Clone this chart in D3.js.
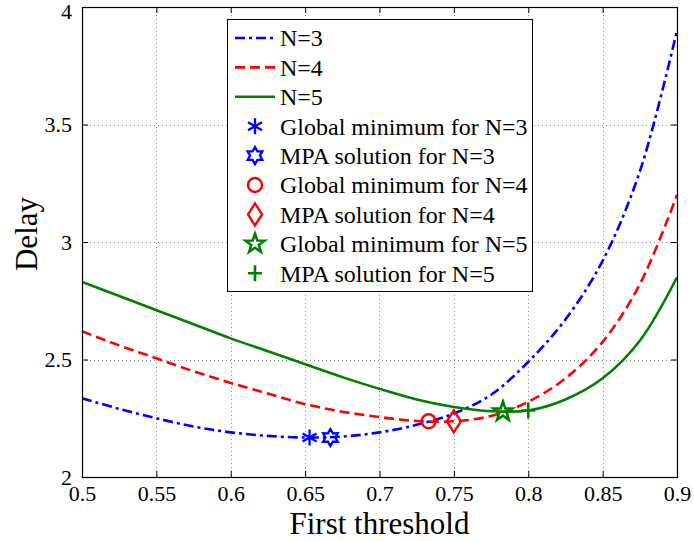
<!DOCTYPE html>
<html>
<head>
<meta charset="utf-8">
<script src="https://cdn.jsdelivr.net/npm/d3@7"></script>
<style>
  body { margin: 0; background: #fff; }
</style>
</head>
<body>
<script>
// data
var thresholds = [0.5, 0.525, 0.55, 0.575, 0.6, 0.625, 0.65, 0.675, 0.7, 0.725, 0.75, 0.775, 0.8, 0.825, 0.85, 0.875, 0.9];
var delayN3 = [2.335, 2.29, 2.25, 2.215, 2.19, 2.175, 2.168, 2.172, 2.19, 2.222, 2.27, 2.35, 2.49, 2.67, 2.92, 3.3, 3.9];
var delayN4 = [2.62, 2.56, 2.505, 2.45, 2.40, 2.355, 2.31, 2.278, 2.255, 2.238, 2.237, 2.26, 2.32, 2.42, 2.575, 2.82, 3.2];
var delayN5 = [2.83, 2.77, 2.71, 2.65, 2.59, 2.535, 2.48, 2.425, 2.375, 2.33, 2.298, 2.28, 2.283, 2.33, 2.42, 2.58, 2.85];
var xTicks = [0.5, 0.55, 0.6, 0.65, 0.7, 0.75, 0.8, 0.85, 0.9];
var yTicks = [2, 2.5, 3, 3.5, 4];

var seriesNames = ["N=3", "N=4", "N=5"];
var seriesColors = ["#0000ff", "#ff0000", "#008000"];
var seriesDash = ["10,4,3,4", "10,5", null];

var markerNames = ["Global minimum for N=3", "MPA solution for N=3", "Global minimum for N=4",
                   "MPA solution for N=4", "Global minimum for N=5", "MPA solution for N=5"];
var markerX = [0.653, 0.667, 0.733, 0.75, 0.783, 0.8];
var markerY = [2.168, 2.168, 2.237, 2.237, 2.278, 2.283];
var markerShapes = ["asterisk", "hexagram", "circle", "diamond", "pentagram", "plus"];
var markerColors = ["#0000ff", "#0000ff", "#ff0000", "#ff0000", "#008000", "#008000"];

var width = 694, height = 541;
var plotLeft = 82, plotRight = 677, plotTop = 7, plotBottom = 477;
var serif = "'Liberation Serif', 'Times New Roman', serif";

var x = d3.scaleLinear().domain([0.5, 0.9]).range([plotLeft, plotRight]);
var y = d3.scaleLinear().domain([2, 4]).range([plotBottom, plotTop]);

var svg = d3.select("body").append("svg")
  .attr("width", width)
  .attr("height", height)
  .attr("font-family", serif);

svg.append("rect").attr("width", width).attr("height", height).attr("fill", "#fff");

svg.append("clipPath").attr("id", "plotclip")
  .append("rect").attr("x", plotLeft).attr("y", plotTop).attr("width", plotRight - plotLeft).attr("height", plotBottom - plotTop);

// grid
var grid = svg.append("g").attr("stroke", "#8a8a8a").attr("stroke-width", 1).attr("stroke-dasharray", "1,3");
grid.selectAll(".gx").data(xTicks.slice(1, -1)).enter().append("line")
  .attr("x1", function(d) { return Math.round(x(d)) + 0.5 }).attr("x2", function(d) { return Math.round(x(d)) + 0.5 })
  .attr("y1", plotTop).attr("y2", plotBottom);
grid.selectAll(".gy").data(yTicks.slice(1, -1)).enter().append("line")
  .attr("y1", function(d) { return Math.round(y(d)) + 0.5 }).attr("y2", function(d) { return Math.round(y(d)) + 0.5 })
  .attr("x1", plotLeft).attr("x2", plotRight);

// axes (matlab box with inward ticks)
var tickLen = 6;
var axB = svg.append("g").attr("transform", "translate(0," + plotBottom + ")")
  .call(d3.axisBottom(x).tickValues(xTicks).tickSizeInner(-tickLen).tickSizeOuter(0).tickPadding(8).tickFormat(d3.format("")));
var axT = svg.append("g").attr("transform", "translate(0," + plotTop + ")")
  .call(d3.axisTop(x).tickValues(xTicks).tickSizeInner(-tickLen).tickSizeOuter(0).tickFormat(""));
var axL = svg.append("g").attr("transform", "translate(" + plotLeft + ",0)")
  .call(d3.axisLeft(y).tickValues(yTicks).tickSizeInner(-tickLen).tickSizeOuter(0).tickPadding(10).tickFormat(d3.format("")));
var axR = svg.append("g").attr("transform", "translate(" + plotRight + ",0)")
  .call(d3.axisRight(y).tickValues(yTicks).tickSizeInner(-tickLen).tickSizeOuter(0).tickFormat(""));

[axB, axT, axL, axR].forEach(function(a) {
  a.select(".domain").remove();
  a.selectAll("line").attr("stroke", "#000");
  a.selectAll("text").attr("font-family", serif).attr("font-size", 22).attr("fill", "#000");
});
axL.selectAll("text").filter(function(d) { return d === 4 }).attr("dy", "0.5em");

// curves
var lineGen = d3.line()
  .x(function(d) { return x(d[0]) })
  .y(function(d) { return y(d[1]) })
  .curve(d3.curveCatmullRom.alpha(0.5));

var curves = svg.append("g").attr("clip-path", "url(#plotclip)");
[delayN3, delayN4, delayN5].forEach(function(vals, i) {
  curves.append("path")
    .datum(thresholds.map(function(t, j) { return [t, vals[j]] }))
    .attr("fill", "none")
    .attr("stroke", seriesColors[i])
    .attr("stroke-width", 2.6)
    .attr("stroke-dasharray", seriesDash[i])
    .attr("d", lineGen);
});

// marker shapes
function starPath(n, rOut, rIn) {
  var pts = [];
  for (var k = 0; k < 2 * n; k++) {
    var a = -Math.PI / 2 + k * Math.PI / n;
    var r = k % 2 === 0 ? rOut : rIn;
    pts.push([r * Math.cos(a), r * Math.sin(a)]);
  }
  return "M" + pts.map(function(p) { return p[0].toFixed(2) + "," + p[1].toFixed(2) }).join("L") + "Z";
}

function drawMarker(g, shape, color) {
  if (shape === "asterisk") {
    g.append("path").attr("d", "M0,-8V8M-7,-4L7,4M-7,4L7,-4")
      .attr("stroke", color).attr("stroke-width", 2.3).attr("fill", "none");
  } else if (shape === "hexagram") {
    g.append("path").attr("d", starPath(6, 8.5, 4.9))
      .attr("stroke", color).attr("stroke-width", 2.3).attr("fill", "none");
  } else if (shape === "circle") {
    g.append("circle").attr("r", 7)
      .attr("stroke", color).attr("stroke-width", 2.4).attr("fill", "none");
  } else if (shape === "diamond") {
    g.append("path").attr("d", "M0,-11L7,0L0,11L-7,0Z")
      .attr("stroke", color).attr("stroke-width", 2.4).attr("fill", "none");
  } else if (shape === "pentagram") {
    g.append("path").attr("d", starPath(5, 10, 4))
      .attr("stroke", color).attr("stroke-width", 2.6).attr("fill", "none");
  } else if (shape === "plus") {
    g.append("path").attr("d", "M0,-8V8M-7,0H7")
      .attr("stroke", color).attr("stroke-width", 2.6).attr("fill", "none");
  }
}

markerShapes.forEach(function(s, i) {
  var g = svg.append("g").attr("transform", "translate(" + x(markerX[i]) + "," + y(markerY[i]) + ")");
  drawMarker(g, s, markerColors[i]);
});

// axis titles
svg.append("text")
  .attr("x", (plotLeft + plotRight) / 2).attr("y", 534)
  .attr("text-anchor", "middle")
  .attr("font-size", 31)
  .text("First threshold");

svg.append("text")
  .attr("transform", "translate(37,234) rotate(-90)")
  .attr("text-anchor", "middle")
  .attr("font-size", 31)
  .text("Delay");

// legend
var legX = 227, legY = 19, legW = 305, legH = 272, rowH = 29.4, firstRow = 38;
var legend = svg.append("g");
legend.append("rect")
  .attr("x", legX + 0.5).attr("y", legY + 0.5).attr("width", legW).attr("height", legH)
  .attr("fill", "#fff").attr("stroke", "#000").attr("stroke-width", 1);

seriesNames.forEach(function(name, i) {
  var yy = firstRow + i * rowH;
  legend.append("line")
    .attr("x1", 235).attr("x2", 275).attr("y1", yy).attr("y2", yy)
    .attr("stroke", seriesColors[i]).attr("stroke-width", 2.6)
    .attr("stroke-dasharray", seriesDash[i]);
  legend.append("text").attr("x", 280).attr("y", yy).attr("dy", "0.35em")
    .attr("font-size", 24).text(name);
});

markerNames.forEach(function(name, i) {
  var yy = firstRow + (i + 3) * rowH;
  var g = legend.append("g").attr("transform", "translate(255," + yy + ")");
  drawMarker(g, markerShapes[i], markerColors[i]);
  legend.append("text").attr("x", 280).attr("y", yy).attr("dy", "0.35em")
    .attr("font-size", 24).text(name);
});

// box on top
svg.append("rect")
  .attr("x", plotLeft + 0.5).attr("y", plotTop + 0.5).attr("width", plotRight - plotLeft).attr("height", plotBottom - plotTop)
  .attr("fill", "none").attr("stroke", "#000").attr("stroke-width", 1.2);
</script>
</body>
</html>
